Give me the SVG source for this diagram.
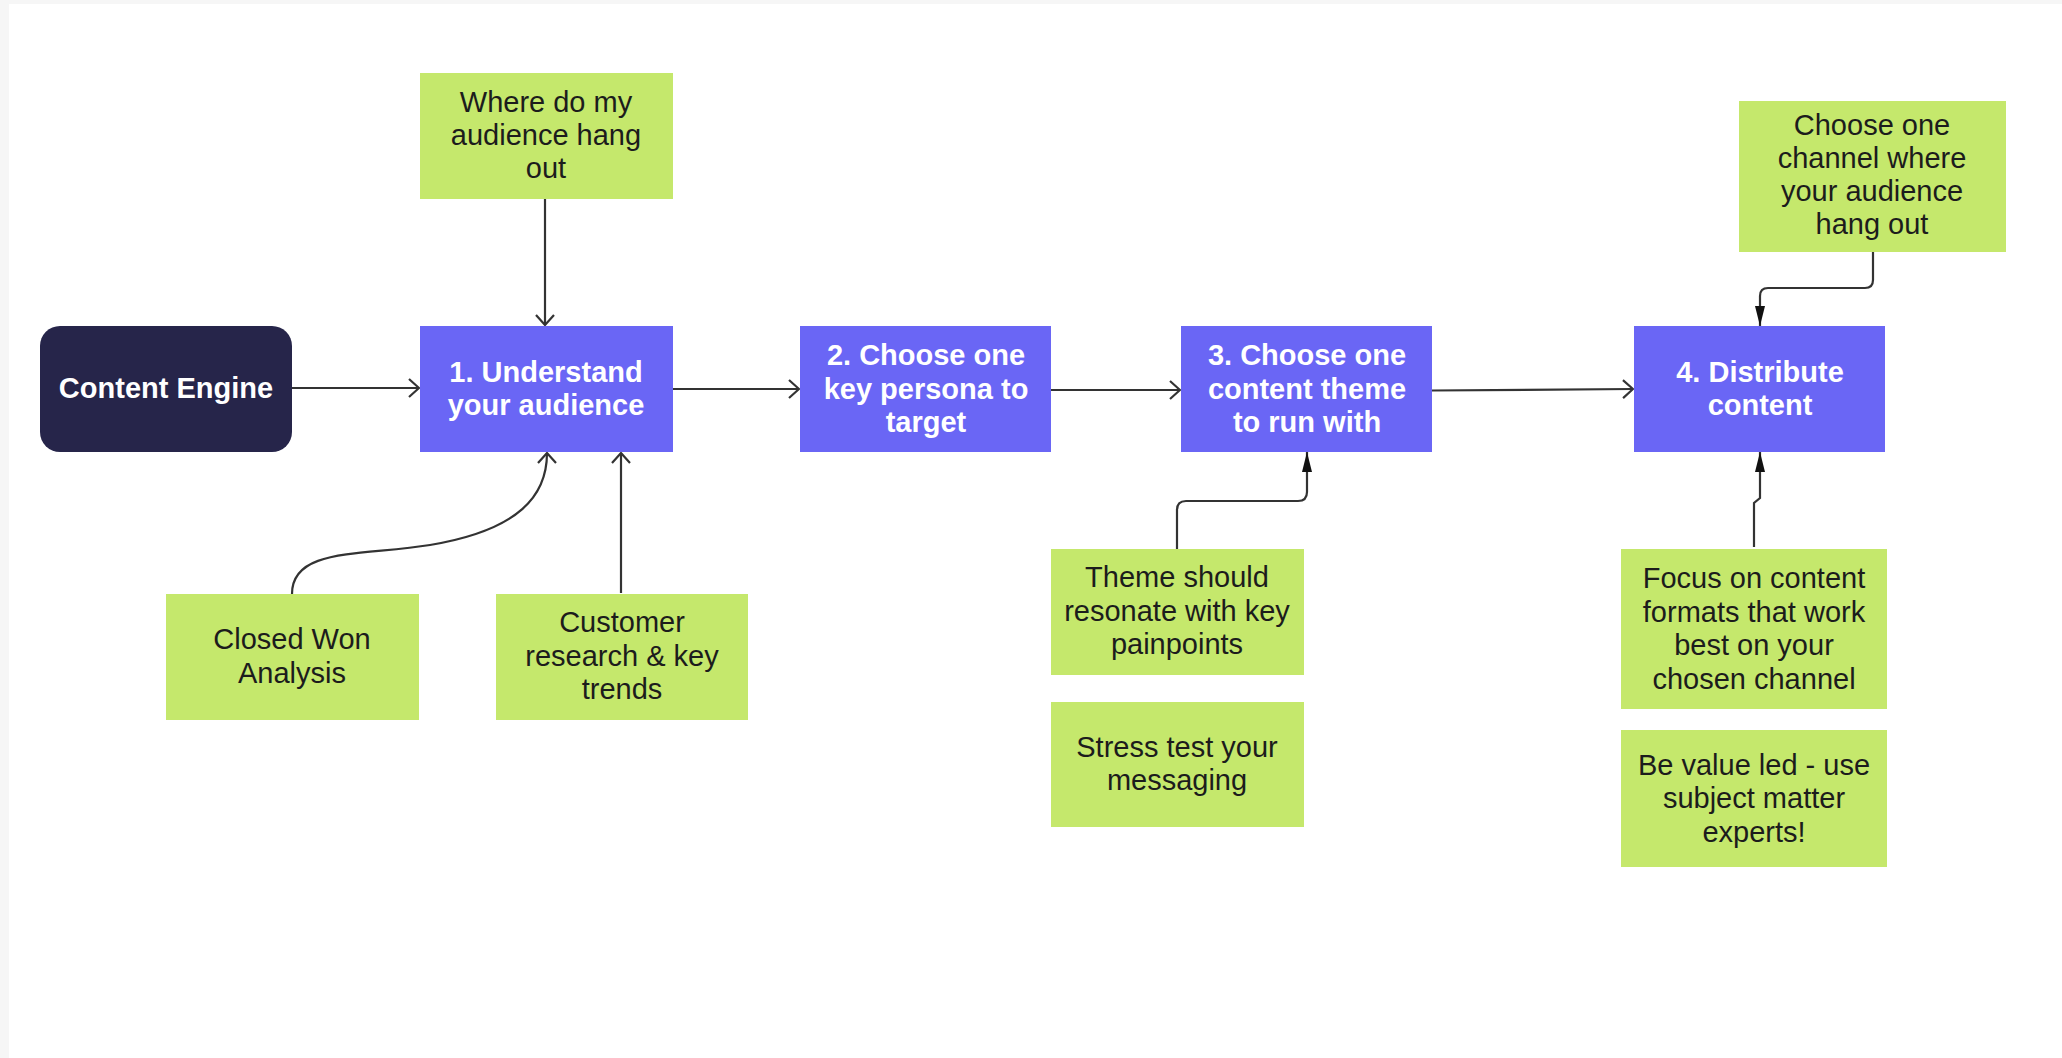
<svg xmlns="http://www.w3.org/2000/svg" width="2062" height="1058" viewBox="0 0 2062 1058">
<defs>
<marker id="open" viewBox="0 0 12 20" refX="11" refY="10" markerWidth="12" markerHeight="20" markerUnits="userSpaceOnUse" orient="auto">
<path d="M1,1 L11,10 L1,19" fill="none" stroke="#333" stroke-width="2.2"/>
</marker>
<marker id="solid" viewBox="0 0 20 12" refX="20" refY="6" markerWidth="20" markerHeight="12" markerUnits="userSpaceOnUse" orient="auto">
<path d="M0,1 L20,6 L0,11 Z" fill="#111"/>
</marker>
</defs>
<style>
.green{fill:#c5e86c}
.purple{fill:#6a66f5}
.navy{fill:#26254a}
.t{font-family:"Liberation Sans",Arial,sans-serif;font-size:29px;fill:#1c1c1c;text-anchor:middle;dominant-baseline:central}
.b{font-family:"Liberation Sans",Arial,sans-serif;font-size:29px;font-weight:bold;fill:#ffffff;text-anchor:middle;dominant-baseline:central}
.c{fill:none;stroke:#333;stroke-width:2.2}
.ca{marker-end:url(#open)}
.cs{marker-end:url(#solid)}
</style>
<rect width="2062" height="1058" fill="#f6f6f6"/>
<rect x="9" y="4" width="2053" height="1054" fill="#ffffff"/>

<g id="connectors">
<path class="c ca" d="M292,388 L419,388"/>
<path class="c ca" d="M545,199 L545,325"/>
<path class="c ca" d="M673,389 L799,389"/>
<path class="c ca" d="M1051,390 L1180,390"/>
<path class="c ca" d="M1432,390.5 L1633,389"/>
<path class="c ca" d="M292,594 C292,548 360,556 430,545 C520,530 547,495 547,453"/>
<path class="c ca" d="M621,593 L621,453"/>
<path class="c cs" d="M1177,549 L1177,510 Q1177,501 1186,501 L1298,501 Q1307,501 1307,492 L1307,452"/>
<path class="c cs" d="M1873,252 L1873,280 Q1873,288 1865,288 L1768,288 Q1760,288 1760,296 L1760,326"/>
<path class="c cs" d="M1754,547 L1754,503 L1760,498 L1760,452"/>
</g>

<g id="content-engine">
<rect class="navy" x="40" y="326" width="252" height="126" rx="20"/>
<text class="b" x="166" y="388">Content Engine</text>
</g>

<g id="step1">
<rect class="purple" x="420" y="326" width="253" height="126"/>
<text class="b" x="546" y="372">1. Understand</text>
<text class="b" x="546" y="405">your audience</text>
</g>

<g id="step2">
<rect class="purple" x="800" y="326" width="251" height="126"/>
<text class="b" x="926" y="355">2. Choose one</text>
<text class="b" x="926" y="389">key persona to</text>
<text class="b" x="926" y="422">target</text>
</g>

<g id="step3">
<rect class="purple" x="1181" y="326" width="251" height="126"/>
<text class="b" x="1307" y="355">3. Choose one</text>
<text class="b" x="1307" y="389">content theme</text>
<text class="b" x="1307" y="422">to run with</text>
</g>

<g id="step4">
<rect class="purple" x="1634" y="326" width="251" height="126"/>
<text class="b" x="1760" y="372">4. Distribute</text>
<text class="b" x="1760" y="405">content</text>
</g>

<g id="where">
<rect class="green" x="420" y="73" width="253" height="126"/>
<text class="t" x="546" y="102">Where do my</text>
<text class="t" x="546" y="135">audience hang</text>
<text class="t" x="546" y="168">out</text>
</g>

<g id="closed-won">
<rect class="green" x="166" y="594" width="253" height="126"/>
<text class="t" x="292" y="639">Closed Won</text>
<text class="t" x="292" y="673">Analysis</text>
</g>

<g id="customer-research">
<rect class="green" x="496" y="594" width="252" height="126"/>
<text class="t" x="622" y="622">Customer</text>
<text class="t" x="622" y="656">research &amp; key</text>
<text class="t" x="622" y="689">trends</text>
</g>

<g id="theme">
<rect class="green" x="1051" y="549" width="253" height="126"/>
<text class="t" x="1177" y="577">Theme should</text>
<text class="t" x="1177" y="611">resonate with key</text>
<text class="t" x="1177" y="644">painpoints</text>
</g>

<g id="stress">
<rect class="green" x="1051" y="702" width="253" height="125"/>
<text class="t" x="1177" y="747">Stress test your</text>
<text class="t" x="1177" y="780">messaging</text>
</g>

<g id="channel">
<rect class="green" x="1739" y="101" width="267" height="151"/>
<text class="t" x="1872" y="125">Choose one</text>
<text class="t" x="1872" y="158">channel where</text>
<text class="t" x="1872" y="191">your audience</text>
<text class="t" x="1872" y="224">hang out</text>
</g>

<g id="focus">
<rect class="green" x="1621" y="549" width="266" height="160"/>
<text class="t" x="1754" y="578">Focus on content</text>
<text class="t" x="1754" y="612">formats that work</text>
<text class="t" x="1754" y="645">best on your</text>
<text class="t" x="1754" y="679">chosen channel</text>
</g>

<g id="value">
<rect class="green" x="1621" y="730" width="266" height="137"/>
<text class="t" x="1754" y="765">Be value led - use</text>
<text class="t" x="1754" y="798">subject matter</text>
<text class="t" x="1754" y="832">experts!</text>
</g>
</svg>
